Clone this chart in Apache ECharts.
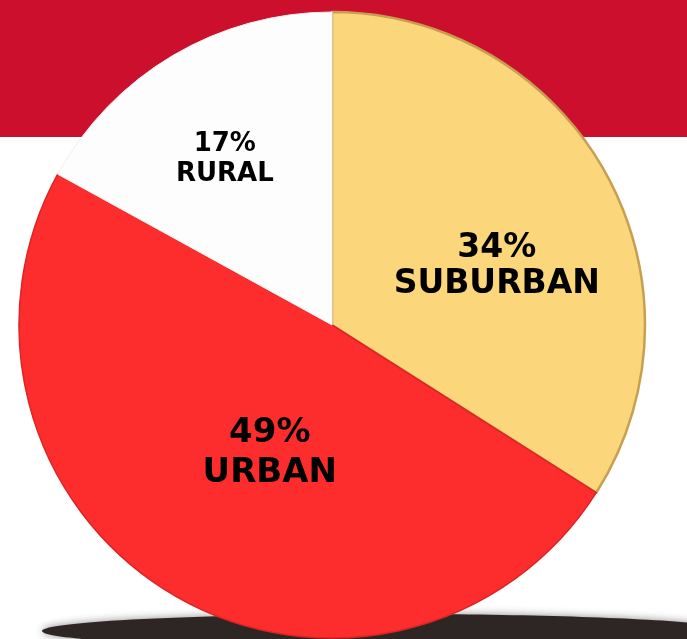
<!DOCTYPE html>
<html>
<head>
<meta charset="utf-8">
<script src="https://cdn.jsdelivr.net/npm/echarts@6/dist/echarts.min.js"></script>
<style>
html, body { margin: 0; padding: 0; background: #fff; }
#container { width: 687px; height: 639px; }
</style>
</head>
<body>
<div id="container"></div>
<script>
var dom = document.getElementById("container");
var myChart = echarts.init(dom);

// 分类与占比
var categories = ['SUBURBAN', 'URBAN', 'RURAL'];
var shares = [34, 49, 17];
var sliceColors = ['#fbd67b', '#fd2d2d', '#fdfdfd'];
var rimColors = ['#c6a050', '#dc2424', '#f0f0f0'];
var rimWidths = [2.5, 1.5, 1];
var labelOffsets = [[25, 18], [19, -9], [-26, -28]];
var labelSizes = [33, 34, 26];
var labelLines = [36, 40, 30];

var pieData = [];
for (var i = 0; i < categories.length; i++) {
    pieData.push({
        name: categories[i],
        value: shares[i],
        itemStyle: { color: sliceColors[i], borderColor: rimColors[i], borderWidth: rimWidths[i] },
        label: {
            offset: labelOffsets[i],
            fontSize: labelSizes[i],
            lineHeight: labelLines[i]
        }
    });
}

var option = {
    backgroundColor: '#ffffff',
    animation: false,
    graphic: [
        {
            type: 'rect',
            z: -10,
            shape: { x: 0, y: 0, width: 687, height: 137 },
            style: { fill: '#cc0f2d' }
        },
        {
            type: 'ellipse',
            z: -5,
            shape: { cx: 388, cy: 631, rx: 346, ry: 17 },
            style: {
                fill: '#2e2624',
                shadowBlur: 8,
                shadowColor: 'rgba(0,0,0,0.45)'
            }
        }
    ],
    series: [
        {
            name: '',
            type: 'pie',
            center: [332, 325],
            radius: 313,
            startAngle: 90,
            clockwise: true,
            avoidLabelOverlap: false,
            label: {
                show: true,
                position: 'inside',
                color: '#000',
                fontFamily: 'DejaVu Sans',
                fontWeight: 'bold',
                formatter: function (p) {
                    return p.value + '%\n' + p.name;
                }
            },
            labelLine: { show: false },
            emphasis: { disabled: true },
            data: pieData
        }
    ]
};

myChart.setOption(option, true);
</script>
</body>
</html>
